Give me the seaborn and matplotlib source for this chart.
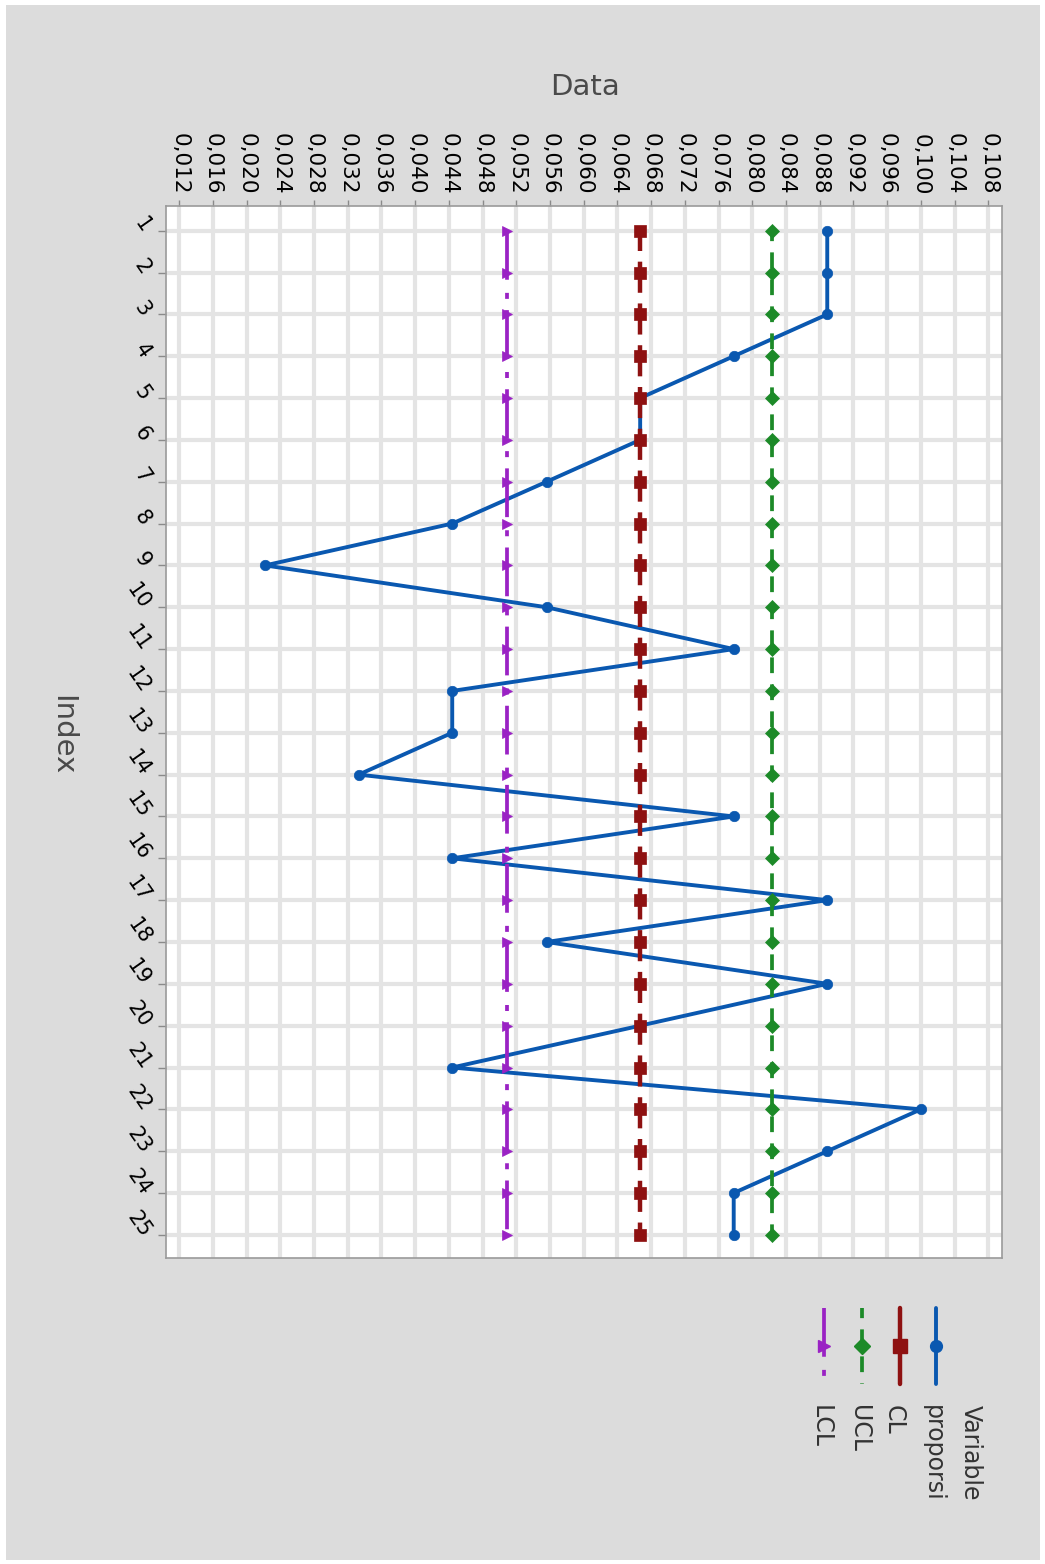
import numpy as np
import pandas as pd
import seaborn as sns
import matplotlib.pyplot as plt
from matplotlib.patches import Rectangle
from matplotlib.ticker import FixedLocator, FuncFormatter

index = list(range(1, 26))
proporsi = [0.0889, 0.0889, 0.0889, 0.0778, 0.0667, 0.0667, 0.0556, 0.0444,
            0.0222, 0.0556, 0.0778, 0.0444, 0.0444, 0.0333, 0.0778, 0.0444,
            0.0889, 0.0556, 0.0889, 0.0667, 0.0444, 0.1000, 0.0889, 0.0778,
            0.0778]
cl_value = 0.0667
ucl_value = 0.0824
lcl_value = 0.0509
data_ticks = [0.012, 0.016, 0.020, 0.024, 0.028, 0.032, 0.036, 0.040, 0.044,
              0.048, 0.052, 0.056, 0.060, 0.064, 0.068, 0.072, 0.076, 0.080,
              0.084, 0.088, 0.092, 0.096, 0.100, 0.104, 0.108]
series_names = ['proporsi', 'CL', 'UCL', 'LCL']

df = pd.DataFrame({
    'Index': index,
    'proporsi': proporsi,
    'CL': [cl_value] * len(index),
    'UCL': [ucl_value] * len(index),
    'LCL': [lcl_value] * len(index),
})

styles = {
    'proporsi': dict(color='#0a58b0', marker='o', markersize=7.5, linewidth=2.8,
                     linestyle='-'),
    'CL': dict(color='#8e1111', marker='s', markersize=8.5, linewidth=3.2,
               linestyle=(2.5, (7.0, 2.4))),
    'UCL': dict(color='#1c8a28', marker='D', markersize=7.5, linewidth=2.7,
                linestyle=(1.5, (4.2, 3.0))),
    'LCL': dict(color='#9a22c4', marker='>', markersize=7.5, linewidth=2.7,
                linestyle=(0, (13, 3.5, 1.6, 3.0))),
}

sns.set_style('white')
plt.rcParams['font.family'] = ['DejaVu Sans']

W, H = 1045, 1564
fig = plt.figure(figsize=(W / 100, H / 100), dpi=100)
fig.patch.set_facecolor('white')
fig.add_artist(Rectangle((6 / W, 4 / H), 1034 / W, 1555 / H,
                         transform=fig.transFigure, facecolor='#dcdcdc',
                         edgecolor='none', zorder=-10))

left, right, top, bottom = 165.7, 1001.7, 206, 1258.3
ax = fig.add_axes([left / W, 1 - bottom / H, (right - left) / W, (bottom - top) / H])
ax.set_facecolor('white')

for name in series_names:
    st = styles[name]
    sns.lineplot(data=df, x=name, y='Index', orient='y', sort=False,
                 estimator=None, ax=ax, legend=False,
                 color=st['color'], marker=st['marker'],
                 markersize=st['markersize'], linewidth=st['linewidth'],
                 linestyle=st['linestyle'], markeredgecolor=st['color'],
                 markeredgewidth=0.5)

ax.set_xlim(0.0104, 0.1096)
ax.set_ylim(25.56, 0.41)
ax.xaxis.tick_top()
ax.xaxis.set_major_locator(FixedLocator(data_ticks))
ax.xaxis.set_major_formatter(FuncFormatter(lambda v, _: f'{v:.3f}'.replace('.', ',')))
ax.yaxis.set_major_locator(FixedLocator(index))

ax.grid(True, color='#e4e4e4', linewidth=3)
ax.set_axisbelow(True)
for sp in ax.spines.values():
    sp.set_color('#9a9a9a')
    sp.set_linewidth(1.2)

ax.tick_params(axis='x', top=True, bottom=False, labeltop=True, labelbottom=False,
               direction='out', length=4, width=1, color='#8a8a8a',
               labelsize=15.5, labelcolor='black', pad=4, labelrotation=-90)
ax.tick_params(axis='y', left=True, direction='out', length=6, width=1,
               color='#8a8a8a', labelsize=15, labelcolor='black', pad=8)
for lab in ax.get_yticklabels():
    lab.set_rotation(-55)
    lab.set_rotation_mode('anchor')
    lab.set_ha('right')
    lab.set_va('center')

ax.xaxis.set_label_position('top')
ax.set_xlabel('Data', fontsize=21, color='#4a4a4a', va='center', ha='center')
ax.xaxis.set_label_coords(0.5016, (bottom - 87) / (bottom - top))
ax.set_ylabel('Index', fontsize=21, color='#4a4a4a', rotation=-90,
              va='center', ha='center')
ax.yaxis.set_label_coords((62 - left) / (right - left), (bottom - 735) / (bottom - top))

# legend, drawn rotated like the rest of the chart (pixel coordinates)
lax = fig.add_axes([0, 0, 1, 1], facecolor='none')
lax.set_xlim(0, W)
lax.set_ylim(H, 0)
lax.axis('off')
lax.text(971, 1405, 'Variable', rotation=-90, rotation_mode='anchor',
         ha='left', va='center', fontsize=17, color='#333333')
handle_x = [936, 900, 861.5, 823.5]
text_x = [933, 894, 859, 821]
for name, hx, tx in zip(series_names, handle_x, text_x):
    st = styles[name]
    lax.plot([hx, hx], [1308, 1384], color=st['color'], linewidth=st['linewidth'],
             linestyle='-' if name in ('proporsi', 'CL') else st['linestyle'])
    lax.plot([hx], [1346], color=st['color'], marker=st['marker'],
             markersize=st['markersize'] + 1, markeredgecolor=st['color'],
             linestyle='none')
    lax.text(tx, 1405, name, rotation=-90, rotation_mode='anchor',
             ha='left', va='center', fontsize=17, color='#333333')

fig.savefig('out.png', dpi=100, facecolor=fig.get_facecolor())
